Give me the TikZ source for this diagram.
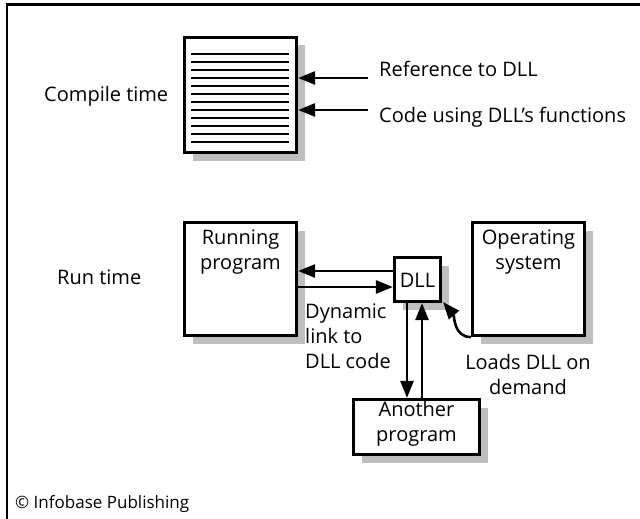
\documentclass[tikz,border=0pt]{standalone}
\usepackage{fontspec}
\setmainfont{Open Sans}
\usetikzlibrary{arrows.meta,shadows}
\definecolor{shadowgray}{RGB}{190,190,190}
\tikzset{
  box/.style={draw, line width=3.2pt, fill=white, inner sep=0pt,
    general shadow={fill=shadowgray, shadow xshift=8pt, shadow yshift=-8pt}},
  lbl/.style={inner sep=0pt, font=\fontsize{20}{25}\selectfont, align=center},
  lbll/.style={inner sep=0pt, font=\fontsize{20}{25}\selectfont, align=left},
  arr/.style={line width=2.6pt, -{Triangle[length=17pt,width=13pt]}},
  docline/.style={line width=2.2pt},
  frame/.style={line width=2.2pt}
}
\begin{document}
\begin{tikzpicture}[x=1pt,y=-1pt]
\useasboundingbox (0,0) rectangle (640,519);
\draw[frame] (7,519) -- (7,4.5) -- (640,4.5);
% compile time
\node[box, minimum width=112pt, minimum height=115pt] (doc) at (240.5,95) {};
\foreach \k in {0,...,11}{
  \draw[docline] (191,54+8*\k) -- (289,54+8*\k);
}
\node[lbl, anchor=base west] (ct) at (44,101) {Compile time};
\node[lbll, anchor=base west] (ref) at (379,77) {Reference to DLL};
\node[lbll, anchor=base west] (code) at (379,122) {Code using DLL’s functions};
\coordinate (r1) at (368,78);
\coordinate (r2) at (368,110);
\draw[arr] (r1) -- (r1 -| doc.east);
\draw[arr] (r2) -- (r2 -| doc.east);
% run time
\node[lbl, anchor=base west] (rt) at (57,284) {Run time};
\node[box, minimum width=112pt, minimum height=113pt] (run) at (240.5,279) {};
\node[lbl, anchor=north] (runt) at (240.5,230) {Running\\program};
\node[box, minimum width=46pt, minimum height=44pt] (dll) at (417.5,279.5) {};
\node[lbl] (dllt) at (417.5,280) {DLL};
\node[box, minimum width=112pt, minimum height=113pt] (os) at (528.5,279) {};
\node[lbl, anchor=north] (ost) at (528.5,230) {Operating\\system};
\node[box, minimum width=126pt, minimum height=55pt] (ano) at (416.5,427) {};
\node[lbl, anchor=north] (anot) at (416.5,401) {Another\\program};
\coordinate (d1) at (393,271);
\coordinate (d2) at (298,287);
\draw[arr] (d1) -- (d1 -| run.east);
\draw[arr] (d2) -- (d2 -| dll.west);
\coordinate (v1) at (407,303);
\coordinate (v2) at (422,398);
\draw[arr] (v1) -- (v1 |- ano.north);
\draw[arr] (v2) -- (v2 |- dll.south);
\draw[arr] (os.south west) to[out=180,in=-50] ([xshift=1pt,yshift=1pt]dll.south east);
\node[lbll, anchor=north west] (dyn) at (305,304) {Dynamic\\link to\\DLL code};
\node[lbl, anchor=north] (loads) at (528,354) {Loads DLL on\\demand};
\node[inner sep=0pt, anchor=base west, font=\fontsize{17}{20}\selectfont] (copy) at (15,508) {© Infobase Publishing};
\end{tikzpicture}
\end{document}
